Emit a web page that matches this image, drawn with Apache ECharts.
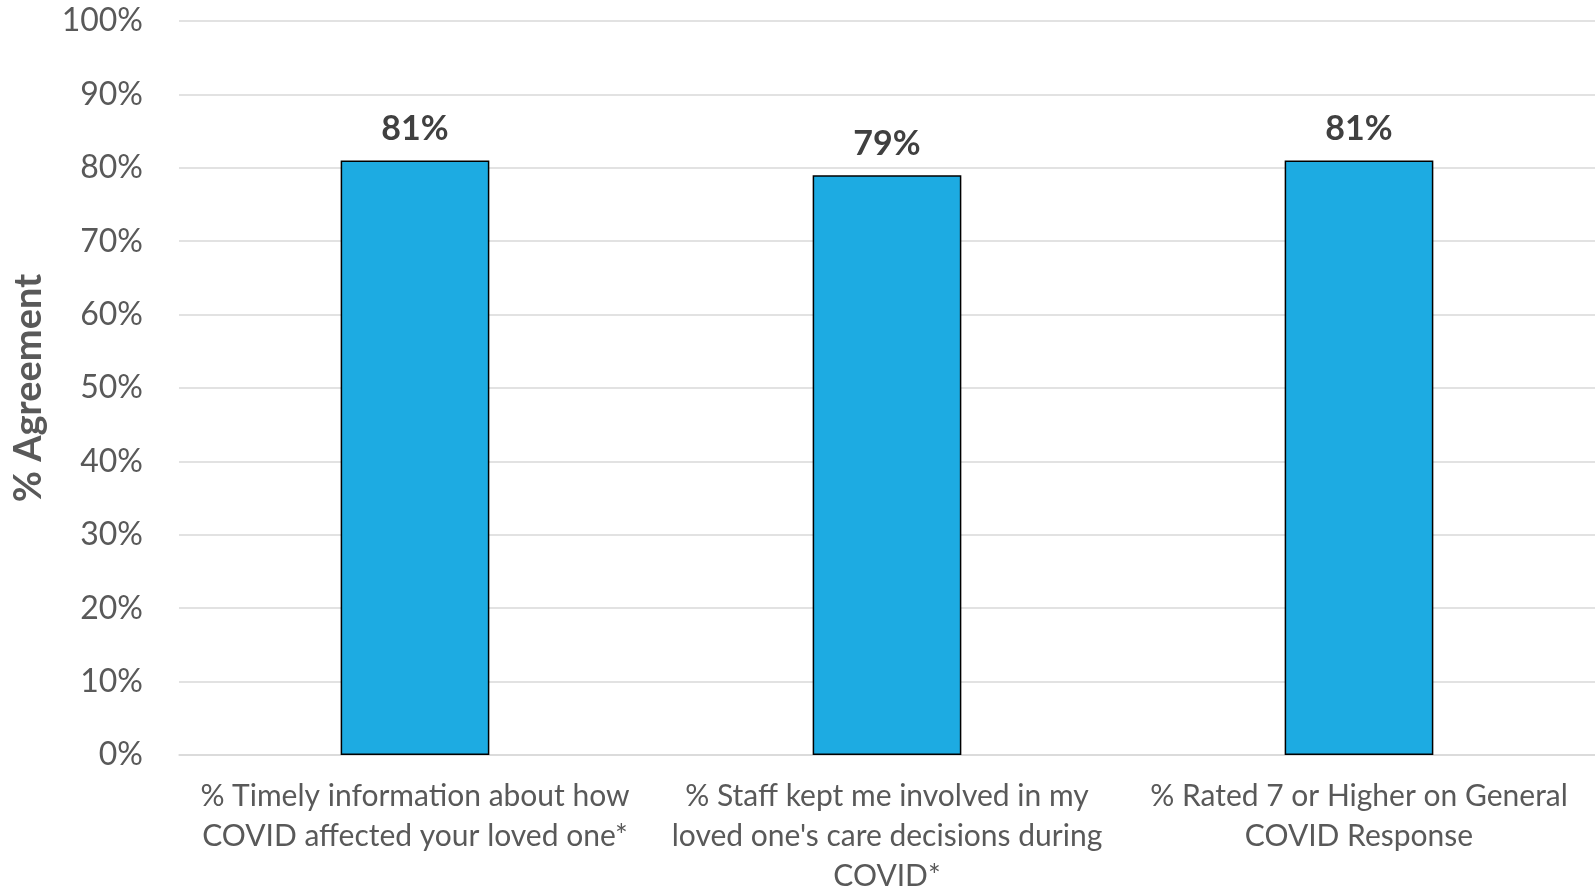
<!DOCTYPE html>
<html>
<head>
    <meta charset="UTF-8"/>
    <script src="https://cdn.jsdelivr.net/npm/echarts@6/dist/echarts.min.js"></script>
    <style>
        html, body {margin: 0; padding: 0; background: #fff;}
        #main {width: 1595px; height: 887px;}
    </style>
</head>
<body>
<div id="main"></div>
<script type="text/javascript">
    var categories = [
        '% Timely information about how\nCOVID affected your loved one*',
        "% Staff kept me involved in my\nloved one's care decisions during\nCOVID*",
        '% Rated 7 or Higher on General\nCOVID Response'
    ];
    var agreement = [81, 79, 81];
    var yTicks = [0, 10, 20, 30, 40, 50, 60, 70, 80, 90, 100];

    var font = 'Lato, "Open Sans", sans-serif';
    var myChart = echarts.init(document.getElementById('main'));
    var option = {
        animation: false,
        grid: {left: 179, right: 0, top: 21, bottom: 132, outerBoundsMode: 'none', containLabel: false},
        xAxis: {
            type: 'category',
            data: categories,
            axisTick: {show: false},
            axisLine: {lineStyle: {color: '#d9d9d9', width: 1.5}},
            axisLabel: {
                color: '#595959',
                fontFamily: font,
                fontSize: 30,
                lineHeight: 40,
                margin: 21,
                interval: 0
            }
        },
        yAxis: {
            type: 'value',
            min: yTicks[0],
            max: yTicks[yTicks.length - 1],
            interval: 10,
            name: '% Agreement',
            nameLocation: 'middle',
            nameGap: 131,
            nameTextStyle: {color: '#595959', fontFamily: font, fontSize: 38, fontWeight: 'bold'},
            axisLabel: {
                color: '#595959',
                fontFamily: font,
                fontSize: 32,
                margin: 36,
                formatter: '{value}%'
            },
            splitLine: {lineStyle: {color: '#d9d9d9', width: 1.5}}
        },
        series: [{
            type: 'bar',
            data: agreement,
            barWidth: '31.5%',
            itemStyle: {color: '#1dabe2', borderColor: '#000', borderWidth: 1.5},
            label: {
                show: true,
                position: 'top',
                distance: 14,
                formatter: '{c}%',
                color: '#404040',
                fontFamily: font,
                fontSize: 34,
                fontWeight: 'bold'
            }
        }]
    };
    myChart.setOption(option);
</script>
</body>
</html>
